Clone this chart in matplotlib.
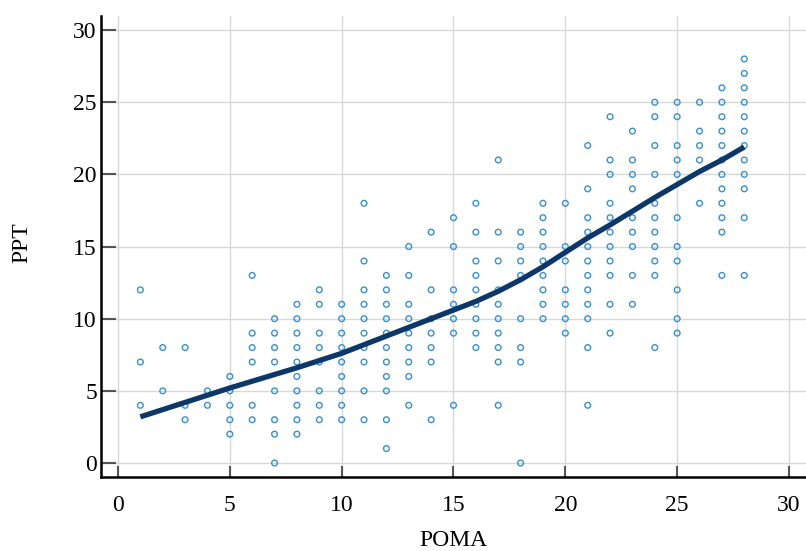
import numpy as np
import matplotlib
matplotlib.use("Agg")
import matplotlib.pyplot as plt

# POMA score -> list of PPT values observed at that score
ppt_by_poma = {
    1: [12, 7, 4],
    2: [8, 5],
    3: [8, 4, 3],
    4: [5, 4],
    5: [6, 5, 4, 3, 2],
    6: [13, 9, 8, 7, 4, 3],
    7: [10, 9, 8, 7, 5, 3, 2, 0],
    8: [11, 10, 9, 8, 7, 6, 5, 4, 3, 2],
    9: [12, 11, 9, 8, 7, 5, 4, 3],
    10: [11, 10, 9, 8, 7, 6, 5, 4, 3],
    11: [18, 14, 12, 11, 10, 9, 8, 7, 5, 3],
    12: [13, 12, 11, 10, 9, 8, 7, 6, 5, 3, 1],
    13: [15, 13, 11, 10, 9, 8, 7, 6, 4],
    14: [16, 12, 10, 9, 8, 7, 3],
    15: [17, 15, 12, 11, 10, 9, 4],
    16: [18, 16, 14, 13, 12, 11, 10, 9, 8],
    17: [21, 16, 14, 12, 11, 10, 9, 8, 7, 4],
    18: [16, 15, 14, 13, 10, 8, 7, 0],
    19: [18, 17, 16, 15, 14, 13, 12, 11, 10],
    20: [18, 15, 14, 12, 11, 10, 9],
    21: [22, 19, 17, 16, 15, 14, 13, 12, 11, 10, 8, 4],
    22: [24, 21, 20, 18, 17, 16, 15, 14, 13, 11, 9],
    23: [23, 21, 20, 19, 17, 16, 15, 13, 11],
    24: [25, 24, 22, 20, 18, 17, 16, 15, 14, 13, 8],
    25: [25, 24, 22, 21, 20, 17, 15, 14, 12, 10, 9],
    26: [25, 23, 22, 21, 18],
    27: [26, 25, 24, 23, 22, 21, 20, 19, 18, 17, 16, 13],
    28: [28, 27, 26, 25, 24, 23, 22, 21, 20, 19, 17, 13],
}

# smoothed fit line
fit_x = [1, 3, 5, 8, 10, 12, 14, 15, 16, 17, 18, 19, 20, 21, 22, 23, 24, 25, 26, 27, 28]
fit_y = [3.2, 4.2, 5.2, 6.6, 7.6, 8.8, 10.0, 10.6, 11.2, 11.9, 12.7, 13.6, 14.6,
         15.6, 16.5, 17.45, 18.4, 19.3, 20.2, 21.0, 21.9]

ticks = [0, 5, 10, 15, 20, 25, 30]

poma = []
ppt = []
for k, vals in ppt_by_poma.items():
    poma += [k] * len(vals)
    ppt += vals

plt.rcParams['font.family'] = ['Liberation Serif', 'DejaVu Serif']

fig = plt.figure(figsize=(8.06, 5.51), dpi=100)
ax = fig.add_axes([0.1253, 0.1343, 0.8747, 0.8367])

ax.grid(True, color='#d8d8d8', linewidth=1.0, zorder=0)
ax.scatter(poma, ppt, s=17, facecolors='none', edgecolors='#3a8fd0',
           linewidths=1.0, zorder=2)
ax.plot(fit_x, fit_y, color='#0c3768', linewidth=3.8,
        solid_capstyle='butt', zorder=3)

ax.set_xlim(-0.76, 30.76)
ax.set_ylim(-0.97, 30.98)
ax.set_xticks(ticks)
ax.set_yticks(ticks)

for s in ['top', 'right']:
    ax.spines[s].set_visible(False)
for s in ['left', 'bottom']:
    ax.spines[s].set_linewidth(1.8)
    ax.spines[s].set_color('black')

ax.tick_params(axis='y', direction='in', length=10.8, width=1.5,
               color='#555555', labelsize=17, pad=3)
ax.tick_params(axis='x', direction='in', length=7.9, width=1.5,
               color='#555555', labelsize=17, pad=13)

ax.set_xlabel('POMA', fontsize=17)
ax.set_ylabel('PPT', fontsize=17)
ax.xaxis.set_label_coords(0.5, -0.115)
ax.yaxis.set_label_coords(-0.098, 0.508)

fig.savefig('out.png', dpi=100)
